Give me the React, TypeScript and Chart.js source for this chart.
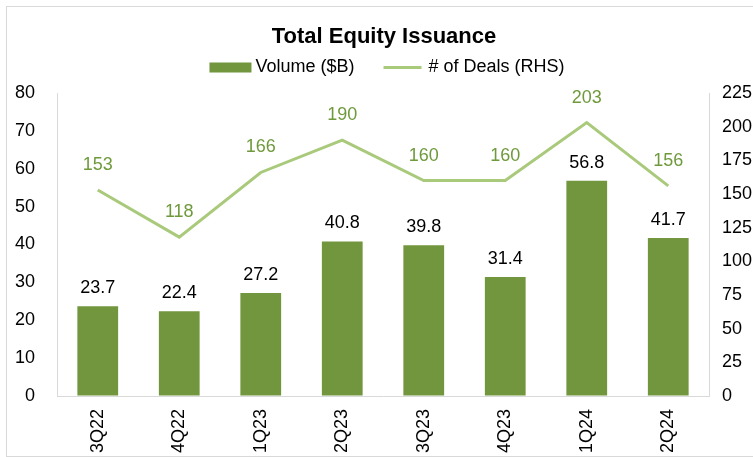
import React, { useEffect, useRef } from 'react';
import { Chart, registerables } from 'chart.js';

Chart.register(...registerables);

const categories = ['3Q22', '4Q22', '1Q23', '2Q23', '3Q23', '4Q23', '1Q24', '2Q24'];
const volume = [23.7, 22.4, 27.2, 40.8, 39.8, 31.4, 56.8, 41.7];
const deals = [153, 118, 166, 190, 160, 160, 203, 156];
const leftAxis = { min: 0, max: 80, step: 10 };
const rightAxis = { min: 0, max: 225, step: 25 };
const seriesNames = ['Volume ($B)', '# of Deals (RHS)'];
const titleText = 'Total Equity Issuance';

const FONT = '"Liberation Sans", Arial, Helvetica, sans-serif';
const BAR_COLOR = '#71963d';
const LINE_COLOR = '#a9c97b';
const LINE_LABEL = '#6f9a3c';
const AXIS_COLOR = '#d9d9d9';

const W = 754;
const H = 449;

const valueLabels = {
  id: 'valueLabels',
  afterDatasetsDraw(chart: any) {
    const ctx = chart.ctx;
    ctx.save();
    ctx.font = `18px ${FONT}`;
    ctx.textAlign = 'center';
    ctx.textBaseline = 'middle';
    chart.getDatasetMeta(0).data.forEach((el: any, i: number) => {
      ctx.fillStyle = '#000000';
      ctx.fillText(volume[i].toFixed(1), el.x, el.y - 18);
    });
    chart.getDatasetMeta(1).data.forEach((el: any, i: number) => {
      ctx.fillStyle = LINE_LABEL;
      ctx.fillText(String(deals[i]), el.x, el.y - 25);
    });
    ctx.restore();
  },
};

const customLegend = {
  id: 'customLegend',
  afterDraw(chart: any) {
    const ctx = chart.ctx;
    ctx.save();
    ctx.font = `18px ${FONT}`;
    ctx.textBaseline = 'middle';
    ctx.textAlign = 'left';
    const w1 = ctx.measureText(seriesNames[0]).width;
    const w2 = ctx.measureText(seriesNames[1]).width;
    const sw1 = 42, g1 = 4, gap = 29, sw2 = 38, g2 = 7;
    const total = sw1 + g1 + w1 + gap + sw2 + g2 + w2;
    const cy = 60.5;
    let x = chart.width / 2 + 3 - total / 2;
    ctx.fillStyle = BAR_COLOR;
    ctx.fillRect(x, cy - 5, sw1, 10);
    x += sw1 + g1;
    ctx.fillStyle = '#000000';
    ctx.fillText(seriesNames[0], x, cy);
    x += w1 + gap;
    ctx.strokeStyle = LINE_COLOR;
    ctx.lineWidth = 3;
    ctx.beginPath();
    ctx.moveTo(x, cy);
    ctx.lineTo(x + sw2, cy);
    ctx.stroke();
    x += sw2 + g2;
    ctx.fillText(seriesNames[1], x, cy);
    ctx.restore();
  },
};

export default function App() {
  const ref = useRef<HTMLCanvasElement | null>(null);

  useEffect(() => {
    document.documentElement.style.overflow = 'hidden';
    document.body.style.margin = '0';
    document.body.style.overflow = 'hidden';
    const canvas = ref.current;
    if (!canvas) return;
    const chart = new Chart(canvas, {
      type: 'bar',
      data: {
        labels: categories,
        datasets: [
          {
            type: 'bar',
            label: seriesNames[0],
            data: volume,
            backgroundColor: BAR_COLOR,
            borderWidth: 0,
            barPercentage: 0.5,
            categoryPercentage: 1.0,
            yAxisID: 'y',
            order: 2,
          },
          {
            type: 'line',
            label: seriesNames[1],
            data: deals,
            borderColor: LINE_COLOR,
            backgroundColor: LINE_COLOR,
            borderWidth: 3,
            pointRadius: 0,
            pointHoverRadius: 0,
            tension: 0,
            fill: false,
            yAxisID: 'y1',
            order: 1,
          },
        ] as any,
      },
      options: {
        responsive: false,
        animation: false,
        devicePixelRatio: 1,
        layout: { padding: 0 },
        plugins: {
          legend: { display: false },
          tooltip: { enabled: false },
          title: {
            display: true,
            text: titleText,
            color: '#000000',
            font: { family: FONT, size: 22, weight: 'bold', lineHeight: 1.2 },
            padding: { top: 16.8, bottom: 42.8 },
          },
        },
        scales: {
          x: {
            grid: { display: true, drawOnChartArea: false, drawTicks: false, color: 'transparent' },
            border: { display: true, color: AXIS_COLOR, width: 1 },
            ticks: {
              color: '#000000',
              font: { family: FONT, size: 18 },
              minRotation: 90,
              maxRotation: 90,
              autoSkip: false,
              padding: 13,
            },
            afterFit(scale: any) {
              scale.height = 60;
            },
          },
          y: {
            position: 'left',
            min: leftAxis.min,
            max: leftAxis.max,
            grid: { display: true, drawOnChartArea: false, drawTicks: false, color: 'transparent' },
            border: { display: true, color: AXIS_COLOR, width: 1 },
            ticks: {
              stepSize: leftAxis.step,
              color: '#000000',
              font: { family: FONT, size: 18 },
              padding: 22,
            },
            afterFit(scale: any) {
              scale.width = 50;
            },
          },
          y1: {
            position: 'right',
            min: rightAxis.min,
            max: rightAxis.max,
            grid: { display: true, drawOnChartArea: false, drawTicks: false, color: 'transparent' },
            border: { display: true, color: AXIS_COLOR, width: 1 },
            ticks: {
              stepSize: rightAxis.step,
              color: '#000000',
              font: { family: FONT, size: 18 },
              padding: 13,
            },
            afterFit(scale: any) {
              scale.width = 52;
            },
          },
        },
      } as any,
      plugins: [valueLabels, customLegend],
    });
    return () => chart.destroy();
  }, []);

  return (
    <div
      style={{
        position: 'fixed',
        left: 6,
        top: 6,
        width: W,
        height: H,
        border: `1px solid ${AXIS_COLOR}`,
        background: '#ffffff',
      }}
    >
      <canvas ref={ref} width={W} height={H} style={{ display: 'block', width: W, height: H }} />
    </div>
  );
}
